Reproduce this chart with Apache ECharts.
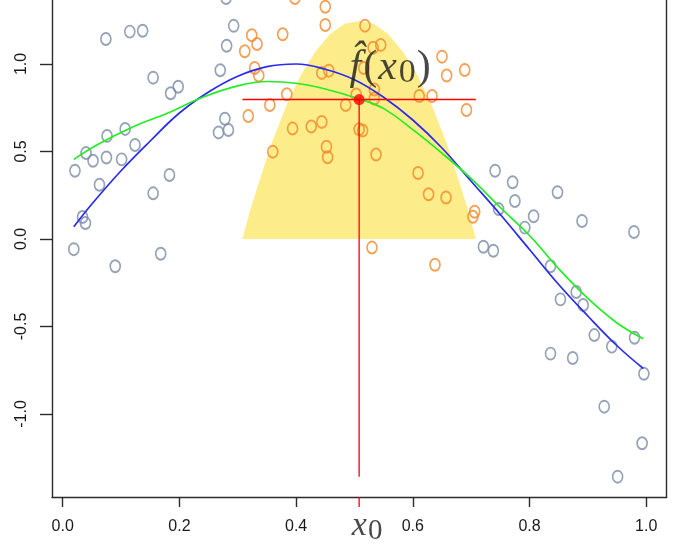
<!DOCTYPE html>
<html>
<head>
<meta charset="utf-8">
<script src="https://cdn.jsdelivr.net/npm/echarts@6/dist/echarts.min.js"></script>
<style>
html,body{margin:0;padding:0;background:#fff;}
#chart{width:682px;height:555px;}
</style>
</head>
<body>
<div id="chart"></div>
<script>
// ---- data ----
const x_ticks = [0.0, 0.2, 0.4, 0.6, 0.8, 1.0];
const y_ticks = [-1.0, -0.5, 0.0, 0.5, 1.0];
const x0 = 0.508;
const fhat = 0.797;
const vline_bottom = -1.358;

const gray_x = [0.074,0.115,0.137,0.155,0.185,0.198,0.270,0.281,0.293,0.280,
  0.107,0.076,0.124,0.040,0.052,0.075,0.101,0.021,0.063,0.183,0.155,0.278,0.267,0.284,
  0.034,0.039,0.019,0.168,0.090,
  0.741,0.771,0.848,0.775,0.747,0.807,0.792,0.890,0.979,0.721,0.738,0.836,
  0.880,0.853,0.892,0.911,0.941,0.980,0.836,0.874,0.996,0.928,0.993,0.951];
const gray_y = [1.143,1.185,1.190,0.922,0.833,0.870,0.964,1.104,1.218,1.377,
  0.629,0.589,0.537,0.491,0.447,0.466,0.455,0.390,0.310,0.366,0.261,0.687,0.609,0.623,
  0.126,0.091,-0.058,-0.084,-0.156,
  0.390,0.324,0.267,0.217,0.171,0.130,0.065,0.103,0.040,-0.044,-0.067,-0.156,
  -0.303,-0.345,-0.377,-0.549,-0.615,-0.564,-0.655,-0.680,-0.770,-0.958,-1.167,-1.358];

const orange_x = [0.398,0.450,0.450,0.518,0.377,0.324,0.333,0.312,0.532,0.545,
  0.516,0.329,0.336,0.444,0.456,0.650,0.658,0.689,0.534,0.534,0.384,0.355,0.318,
  0.485,0.503,0.611,0.633,0.692,0.394,0.426,0.444,0.508,0.514,0.360,0.452,0.454,
  0.537,0.609,0.627,0.657,0.706,0.703,0.530,0.638];
const orange_y = [1.377,1.327,1.223,1.219,1.170,1.164,1.114,1.073,1.093,1.109,
  0.977,0.977,0.934,0.949,0.962,1.042,0.934,0.966,0.854,0.803,0.827,0.766,0.703,
  0.766,0.826,0.817,0.817,0.737,0.631,0.643,0.669,0.627,0.620,0.499,0.527,0.467,
  0.483,0.377,0.256,0.237,0.156,0.127,-0.049,-0.147];

const blue_x = [0.019,0.05,0.10,0.15,0.20,0.25,0.30,0.35,0.40,0.45,0.50,0.55,0.60,0.65,0.70,0.75,0.80,0.85,0.90,0.95,0.995];
const blue_y = [0.07,0.20,0.39,0.56,0.72,0.84,0.93,0.985,1.00,0.97,0.91,0.81,0.68,0.52,0.33,0.14,-0.06,-0.26,-0.44,-0.61,-0.74];

const green_x = [0.019,0.06,0.12,0.18,0.24,0.30,0.35,0.40,0.45,0.508,0.55,0.60,0.65,0.70,0.75,0.80,0.85,0.90,0.95,0.995];
const green_y = [0.455,0.54,0.64,0.72,0.81,0.875,0.90,0.89,0.857,0.80,0.745,0.625,0.49,0.345,0.18,0.02,-0.17,-0.34,-0.48,-0.57];

const kernel_x = [0.308,0.320,0.333,0.358,0.383,0.408,0.433,0.458,0.483,0.508,0.533,0.558,0.583,0.608,0.633,0.658,0.683,0.696,0.708];
const kernel_y = [0,0.15,0.29,0.545,0.76,0.935,1.07,1.17,1.23,1.246,1.23,1.17,1.07,0.935,0.76,0.545,0.29,0.15,0];

// ---- build ----
const zip = (a, b) => a.map((v, i) => [v, b[i]]);
const X_MIN = -0.01834, X_MAX = 1.0351, Y_MIN = -1.4743, Y_MAX = 1.3657;
const RED = '#ff0000';
const TXT = '#1a1a1a';
const SERIF = 'Liberation Serif';

const chart = echarts.init(document.getElementById('chart'), null, {renderer: 'canvas'});
const axisCol = '#2b2b2b';
chart.setOption({
  animation: false,
  backgroundColor: '#ffffff',
  grid: {left: 52, right: 15.3, top: 0, bottom: 58},
  xAxis: {
    type: 'value', min: X_MIN, max: X_MAX,
    splitLine: {show: false},
    axisLine: {show: true, onZero: false, lineStyle: {color: axisCol, width: 1.4}},
    axisTick: {show: true, length: 10, customValues: x_ticks, lineStyle: {color: axisCol, width: 1.4}},
    axisLabel: {
      customValues: x_ticks, margin: 22, color: TXT,
      fontFamily: 'Liberation Sans', fontSize: 16,
      formatter: v => v.toFixed(1)
    }
  },
  yAxis: [{
    type: 'value', min: Y_MIN, max: Y_MAX,
    splitLine: {show: false},
    axisLine: {show: true, onZero: false, lineStyle: {color: axisCol, width: 1.4}},
    axisTick: {show: true, length: 12, customValues: y_ticks, lineStyle: {color: axisCol, width: 1.4}},
    axisLabel: {
      customValues: y_ticks, rotate: 90, margin: 22, color: TXT,
      fontFamily: 'Liberation Sans', fontSize: 16,
      formatter: v => v.toFixed(1)
    }
  }, {
    type: 'value', min: Y_MIN, max: Y_MAX, position: 'right',
    splitLine: {show: false}, axisTick: {show: false}, axisLabel: {show: false},
    axisLine: {show: true, onZero: false, lineStyle: {color: axisCol, width: 1.4}}
  }],
  series: [
    {type: 'line', data: zip(kernel_x, kernel_y), symbol: 'none', lineStyle: {width: 0},
     areaStyle: {color: '#fdec8a', opacity: 1}, z: 1},
    {type: 'scatter', data: zip(gray_x, gray_y), clip: false, symbol: 'circle', symbolSize: [10, 12],
     itemStyle: {color: 'rgba(0,0,0,0)', borderColor: '#7a8ca6', borderWidth: 1.8}, z: 2},
    {type: 'scatter', data: zip(orange_x, orange_y), clip: false, symbol: 'circle', symbolSize: [10, 12],
     itemStyle: {color: 'rgba(0,0,0,0)', borderColor: '#f28a2a', borderWidth: 1.8}, z: 2},
    {type: 'line', data: zip(blue_x, blue_y), smooth: 0.4, symbol: 'none', lineStyle: {color: '#2a2af0', width: 1.7}, z: 3},
    {type: 'line', data: zip(green_x, green_y), smooth: 0.4, symbol: 'none', lineStyle: {color: '#22ee22', width: 1.7}, z: 3},
    {type: 'line', color: RED, data: [[kernel_x[0], fhat], [kernel_x[kernel_x.length - 1], fhat]], symbol: 'none',
     itemStyle: {color: RED}, lineStyle: {color: RED, width: 1.5}, z: 4},
    {type: 'line', color: RED, data: [[x0, fhat], [x0, vline_bottom]], symbol: 'none',
     itemStyle: {color: RED}, lineStyle: {color: RED, width: 1.3}, z: 4},
    {type: 'line', color: RED, data: [[x0, Y_MIN], [x0, Y_MIN - 0.057]], symbol: 'none', clip: false,
     itemStyle: {color: RED}, lineStyle: {color: RED, width: 1.3}, z: 4},
    {type: 'scatter', data: [[x0, fhat]], symbol: 'circle', symbolSize: 11,
     itemStyle: {color: RED}, z: 5,
     label: {
       show: true, position: 'top', distance: 10, offset: [31, 6],
       formatter: '{f|f\u0302}{p|(}{x|x}{s|0}{p|)}',
       rich: {
         f: {fontFamily: SERIF, fontStyle: 'italic', fontSize: 42, lineHeight: 44, color: TXT, padding: [0, 2, 0, 0]},
         p: {fontFamily: SERIF, fontSize: 42, lineHeight: 44, color: TXT},
         x: {fontFamily: SERIF, fontStyle: 'italic', fontSize: 42, lineHeight: 44, color: TXT, padding: [0, 2, 0, 1]},
         s: {fontFamily: SERIF, fontSize: 34, lineHeight: 44, color: TXT, padding: [10, 1, 0, 0]}
       }
     }},
    {type: 'scatter', data: [[x0, Y_MIN]], symbolSize: 0, clip: false, z: 5, silent: true,
     label: {
       show: true, position: 'inside', offset: [8, 29],
       formatter: '{x|x}{s|0}',
       rich: {
         x: {fontFamily: SERIF, fontStyle: 'italic', fontSize: 34, color: TXT, padding: [0, 1, 0, 0]},
         s: {fontFamily: SERIF, fontSize: 29, color: TXT, padding: [10, 0, 0, 0]}
       }
     }}
  ]
});
</script>
</body>
</html>
